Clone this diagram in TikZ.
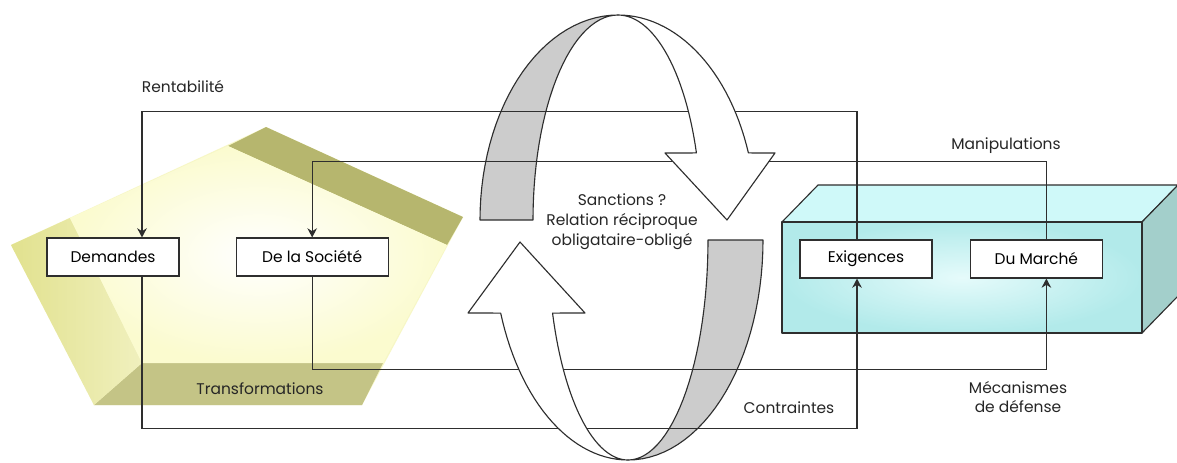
\documentclass[tikz,border=0pt]{standalone}
\usepackage{fontspec}
\setmainfont{Poppins}
\usetikzlibrary{positioning,calc,arrows.meta}

\definecolor{olivefonce}{HTML}{B6B66E}
\definecolor{olivebas}{HTML}{C4C486}
\definecolor{jaunegauche}{HTML}{E6E692}
\definecolor{jaunepale}{HTML}{F7F7C6}
\definecolor{jaunecoeur}{HTML}{FBFBCF}
\definecolor{cyanface}{HTML}{C6F6F6}
\definecolor{cyanhaut}{HTML}{CFF9F9}
\definecolor{cyancote}{HTML}{A3CFCB}
\definecolor{gris}{HTML}{CCCCCC}
\definecolor{trait}{HTML}{2E2E2E}

\begin{document}
\begin{tikzpicture}[x=0.025cm,y=-0.025cm,>=Stealth,
	boite/.style={draw=trait, fill=white, line width=0.8pt, minimum width=3.3cm,
		minimum height=0.95cm, inner sep=0pt, font=\fontsize{11}{13}\selectfont},
	lien/.style={draw=trait, line width=0.8pt},
	fleche/.style={lien, -{Stealth[length=2.3mm,width=2.4mm]}},
	etiquette/.style={font=\fontsize{11}{14}\selectfont, text=black!85, align=center},
	ruban/.style={draw=trait, line width=0.8pt, line join=round}]
	
	\useasboundingbox[fill=white] (0,0) rectangle (1177,462);
	
	% ring geometry (two half ellipses)
	\def\hx{618} \def\hy{220}
	\def\bx{628} \def\by{240}
	
	% pentagon: outer corners and inner face
	\coordinate (pT) at (266,127);  \coordinate (pR) at (463,217);
	\coordinate (pBR) at (362,405); \coordinate (pBL) at (94,405);
	\coordinate (pL) at (11,245);
	\coordinate (iT) at (228,146);  \coordinate (iR) at (447,245);
	\coordinate (iBR) at (383,363); \coordinate (iBL) at (142,363);
	\coordinate (iL) at (70,218);
	
	\fill[jaunepale] (pT) -- (pR) -- (pBR) -- (pBL) -- (pL) -- cycle;
	\fill[olivefonce] (iT) -- (pT) -- (pR) -- (iR) -- cycle;
	\fill[olivebas] (iBL) -- (iBR) -- (pBR) -- (pBL) -- cycle;
	\shade[left color=jaunegauche!90!olivefonce, right color=jaunegauche!60!white]
	(iL) -- (iBL) -- (pBL) -- (pL) -- cycle;
	\shade[inner color=white, outer color=jaunecoeur]
	(iT) -- (iR) -- (iBR) -- (iBL) -- (iL) -- cycle;
	
	% market block
	\def\dx{36} \def\dy{-37}
	\coordinate (cA) at (782,222); \coordinate (cB) at (1142,222);
	\coordinate (cC) at (1142,333); \coordinate (cD) at (782,333);
	\filldraw[ruban, fill=cyanhaut] (cA) -- ++(\dx,\dy) -- ($(cB)+(\dx,\dy)$) -- (cB) -- cycle;
	\filldraw[ruban, fill=cyancote] (cB) -- ++(\dx,\dy) -- ($(cC)+(\dx,\dy)$) -- (cC) -- cycle;
	\shade[inner color=cyanface!45!white, outer color=cyanface!90!teal] (cA) rectangle (cC);
	\draw[ruban] (cA) rectangle (cC);
	
	% back of the ring (grey)
	\filldraw[ruban, fill=gris]
	plot[domain=180:270, samples=30] ({\hx+138*cos(\x)},{\hy+205*sin(\x)})
	-- plot[domain=270:180, samples=30] ({\hx+85*cos(\x)},{\hy+205*sin(\x)}) -- cycle;
	\filldraw[ruban, fill=gris]
	plot[domain=0:90, samples=30] ({\bx+135*cos(\x)},{\by+220*sin(\x)})
	-- plot[domain=90:0, samples=30] ({\bx+80*cos(\x)},{\by+220*sin(\x)}) -- cycle;
	
	% boxes
	\node[boite] (dem) at (113,257) {Demandes};
	\node[boite, minimum width=3.8cm, right=1.4cm of dem] (soc) {De la Société};
	\node[boite] (exi) at (866,259) {Exigences};
	\node[boite, right=0.93cm of exi] (mar) {Du Marché};
	
	% connectors
	\draw[fleche] ($(exi.north)+(-9,0)$) -- ++(0,-128) -| ($(dem.north)+(29,0)$);
	\draw[fleche] ($(mar.north)+(10,0)$) -- ++(0,-78) -| (soc.north);
	\draw[fleche] ($(dem.south)+(29,0)$) -- ++(0,152) -| ($(exi.south)+(-9,0)$);
	\draw[fleche] (soc.south) -- ++(0,93) -| ($(mar.south)+(10,0)$);
	
	% front of the ring (white arrows)
	\filldraw[ruban, fill=white]
	plot[domain=270:340.9, samples=30] ({\hx+138*cos(\x)},{\hy+205*sin(\x)})
	-- (775,153) -- (727,220) -- (665,153)
	-- plot[domain=340.9:270, samples=30] ({\hx+83*cos(\x)},{\hy+205*sin(\x)}) -- cycle;
	\filldraw[ruban, fill=white]
	plot[domain=90:160.6, samples=30] ({\bx+135*cos(\x)},{\by+220*sin(\x)})
	-- (468,313) -- (520,242) -- (585,313)
	-- plot[domain=160.6:90, samples=30] ({\bx+80*cos(\x)},{\by+220*sin(\x)}) -- cycle;
	
	% labels
	\node[etiquette] (rent) at (183,87) {Rentabilité};
	\node[etiquette] (manip) at (1006,146) {Manipulations};
	\node[etiquette] (transf) at (260,389) {Transformations};
	\node[etiquette] (contr) at (789,408) {Contraintes};
	\node[etiquette, font=\fontsize{11}{13.5}\selectfont] (meca) at (1018,397) {Mécanismes\\de défense};
	\node[etiquette, font=\fontsize{11}{14.2}\selectfont] (sanc) at (622,222) {Sanctions ?\\Relation réciproque\\obligataire-obligé};
	
\end{tikzpicture}
\end{document}
